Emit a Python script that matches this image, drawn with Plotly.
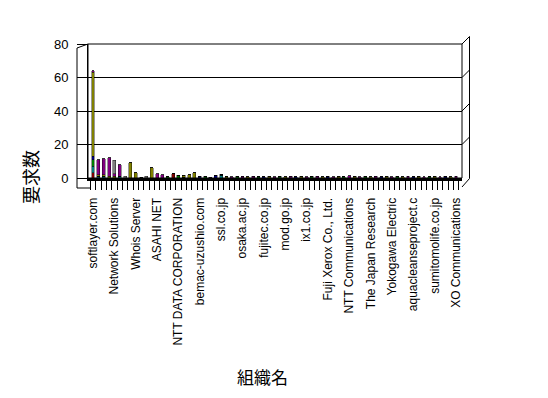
import plotly.graph_objects as go

# ---- data ----
tick_labels = ["softlayer.com", "Network Solutions", "Whois Server", "ASAHI NET",
               "NTT DATA CORPORATION", "bemac-uzushio.com", "ssl.co.jp", "osaka.ac.jp",
               "fujitec.co.jp", "mod.go.jp", "ix1.co.jp", "Fuji Xerox Co., Ltd.",
               "NTT Communications", "The Japan Research", "Yokogawa Electric",
               "aquacleanseproject.c", "sumitomolife.co.jp", "XO Communications"]
n_categories = 69
label_every = 4
y_ticks = [0, 20, 40, 60, 80]

series_names = ["系列1", "系列2", "系列3", "系列4", "系列5", "系列6", "系列7"]
s1 = [3, 0, 0, 0, 0, 0, 0, 0, 0, 0,
      0, 0, 0, 0, 0, 2.5, 0, 0, 0, 0,
      0, 0, 0, 0, 0, 0, 0, 0, 0, 0,
      0, 0, 0, 0, 0, 0, 0, 0, 0, 0,
      0, 0, 0, 0, 0, 0, 0, 0, 0, 0,
      0, 0, 0, 0, 0, 0, 0, 0, 0, 0,
      0, 0, 0, 0, 0, 0, 0, 0, 0]
s2 = [4, 1, 1, 0, 0, 1, 0, 0, 0, 0.5,
      0, 0, 0, 0, 0, 0, 0, 0, 0, 0,
      0, 0, 0, 0, 1.5, 0, 0, 0, 0, 0,
      0, 0, 0, 0, 0, 0, 0, 0, 0, 0,
      0, 0, 0, 0, 0, 0, 0, 0, 0, 0,
      0, 0, 0, 0, 0, 0, 0, 0, 0, 0,
      0, 0, 0, 0, 0, 0, 0, 0, 0]
s3 = [4, 0, 0, 0, 0, 0, 0, 0, 0, 0,
      0, 0, 0, 0, 0.8, 0, 1.5, 0.5, 0, 0,
      0, 1, 0, 0, 0, 0, 0, 1, 0, 0,
      0, 0.7, 0, 0, 0, 1, 0, 0, 0, 0,
      0, 1, 0, 0, 0, 0, 0, 0.8, 0, 0,
      0, 1, 0, 0, 0, 0, 0, 1, 0, 0,
      0, 0, 0, 0.7, 0, 0, 0, 0, 0]
s4 = [2, 0, 0, 0, 0, 0, 0, 0, 0, 0,
      0, 0, 0, 0, 0, 0, 0, 0, 0, 0,
      1, 0, 0, 1.5, 0.7, 0, 0, 0, 0, 0,
      0, 0, 0.8, 0, 0, 0, 0, 0, 0.7, 0,
      0, 0, 0, 0, 1, 0, 0, 0, 0, 0,
      0, 0, 0, 0, 0.8, 0, 0, 0, 0, 0,
      0.8, 0, 0, 0, 0, 0, 1, 0, 0]
s5 = [50, 1, 1, 1, 1, 0, 0, 9, 3, 0,
      0, 6, 0, 0, 0, 0, 0, 1, 2, 3,
      0, 0, 0, 0, 0, 1, 0, 0, 0, 0.8,
      0, 0, 0, 1, 0, 0, 0.8, 0, 0, 1,
      0, 0, 0, 0.7, 0, 0, 1, 0, 0, 1,
      0, 0, 0.8, 0, 0, 1, 0, 0, 0.8, 0,
      0, 1, 0, 0, 1, 0, 0, 0.8, 0]
s6 = [1, 9, 9.5, 11, 1.5, 7, 0, 0, 0, 0,
      0, 0, 2.5, 2, 0, 0, 0, 0, 0, 0,
      0, 0, 0.5, 0, 0, 0, 0.8, 0, 1, 0,
      1, 0, 0, 0, 0.8, 0, 0, 1, 0, 0,
      0.8, 0, 1, 0, 0, 0.8, 0, 0, 1.2, 0,
      0.8, 0, 0, 1, 0, 0, 0.7, 0, 0, 1,
      0, 0, 0.8, 0, 0, 0.8, 0, 0, 1]
s7 = [0, 0, 0, 0, 8, 0, 1, 0, 0, 0,
      1, 0, 0, 0, 0, 0, 0, 0, 0, 0,
      0, 0, 0, 0, 0, 0, 0, 0, 0, 0,
      0, 0, 0, 0, 0, 0, 0, 0, 0, 0,
      0, 0, 0, 0, 0, 0, 0, 0, 0, 0,
      0, 0, 0, 0, 0, 0, 0, 0, 0, 0,
      0, 0, 0, 0, 0, 0, 0, 0, 0]
series_values = [s1, s2, s3, s4, s5, s6, s7]
series_colors = ["#800000", "#008080", "#008000", "#000080", "#808000", "#800080", "#808080"]

# ---- layout geometry (page pixels; the page body adds an 8px offset) ----
OFF = 8
W, H = 548 - OFF, 398 - OFF
PL, PR, PT, PB = 88, 462, 44, 178   # back wall of the plot, page coordinates


def px(x):
    return (x - PL) / (PR - PL)


def py(y):
    return (PB - y) / (PB - PT)


x_idx = list(range(n_categories))
fig = go.Figure()
for name, vals, col in zip(series_names, series_values, series_colors):
    fig.add_trace(go.Bar(x=x_idx, y=vals, name=name, width=0.55,
                         marker=dict(color=col, line=dict(color="black", width=0.4))))

font_fam = "Liberation Sans, Arial, sans-serif"
cjk = "Noto Sans CJK JP"

shapes = []


def seg(x0, y0, x1, y1, w=1):
    shapes.append(dict(type="line", xref="paper", yref="paper",
                       x0=px(x0), y0=py(y0), x1=px(x1), y1=py(y1),
                       line=dict(color="black", width=w)))


shapes.append(dict(type="rect", xref="paper", yref="paper", x0=0, y0=0, x1=1, y1=1,
                   line=dict(color="black", width=1)))
# left wall
seg(77, 48, 77, 188)
seg(77, 48, 88, 44)
seg(77, 188, 91, 188)
# right side face
dx, dy = 7.5, -7.5
seg(PR, PT, PR + dx, PT + dy)
seg(PR + dx, PT + dy, PR + dx, 178.5)
seg(PR, 187, PR + dx, 178.5)
for v in y_ticks[1:4]:
    yy = PB - v * (PB - PT) / 80
    seg(PR, yy, PR + dx, yy + dy)

fig.update_layout(
    width=W, height=H,
    margin=dict(l=PL - OFF, r=W - (PR - OFF), t=PT - OFF, b=H - (PB - OFF), pad=0,
                autoexpand=False),
    paper_bgcolor="white", plot_bgcolor="white",
    barmode="stack", showlegend=False,
    font=dict(family=font_fam, size=12, color="black"),
    xaxis=dict(range=[-0.94, 69.12], tickvals=x_idx[::label_every], ticktext=tick_labels,
               tickangle=-90, ticks="", showgrid=False, zeroline=False, automargin=False,
               showline=True, linecolor="black", linewidth=3,
               minor=dict(ticks="outside", tick0=0.5, dtick=1, ticklen=9,
                          tickcolor="black", tickwidth=1, showgrid=False),
               ticklabelstandoff=12, tickfont=dict(size=12)),
    yaxis=dict(range=[0, 80], tickvals=y_ticks, ticks="outside", ticklen=10,
               tickcolor="black", showgrid=True, gridcolor="black", gridwidth=1,
               zeroline=False, showline=True, linecolor="black", linewidth=1,
               automargin=False, ticklabelstandoff=6, tickfont=dict(size=13)),
    shapes=shapes,
    annotations=[
        dict(text="組織名", xref="paper", yref="paper", x=px(262), y=py(376),
             xanchor="center", yanchor="middle",
             showarrow=False, font=dict(family=cjk, size=17)),
        dict(text="要求数", xref="paper", yref="paper", x=px(30), y=py(177),
             xanchor="center", yanchor="middle",
             showarrow=False, textangle=-90, font=dict(family=cjk, size=18)),
    ],
)

fig.write_html("out.html")
